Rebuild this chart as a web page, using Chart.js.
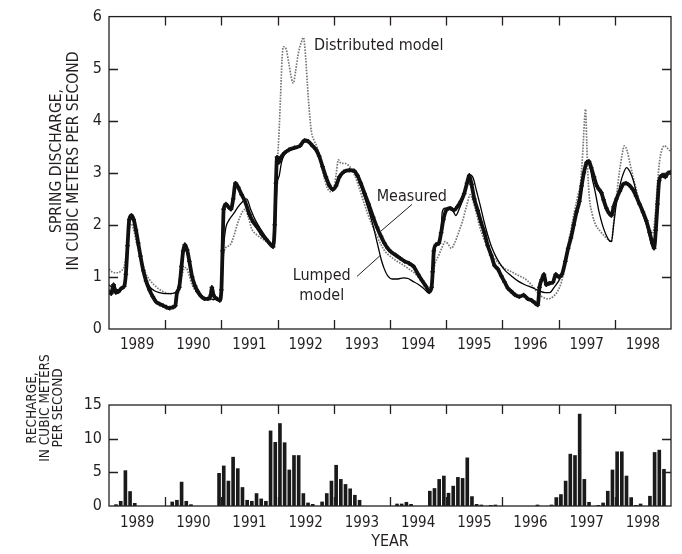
<!DOCTYPE html>
<html><head><meta charset="utf-8">
<script src="https://cdn.jsdelivr.net/npm/chart.js@4.4.1/dist/chart.umd.min.js"></script>
<style>
html,body{margin:0;padding:0;background:#fff;}
#wrap{position:relative;width:682px;height:554px;overflow:hidden;}
#c1{position:absolute;left:0;top:0;}
#c2{position:absolute;left:0;top:340px;}
</style></head><body>
<div id="wrap">
<canvas id="c1" width="682" height="355"></canvas>
<canvas id="c2" width="682" height="214"></canvas>
</div>
<script>
const FONT = '"DejaVu Sans Condensed", "Liberation Sans Narrow", "Liberation Sans", sans-serif';
const INK = '#231f20';

// ---- axis labels ----
const years = [1989, 1990, 1991, 1992, 1993, 1994, 1995, 1996, 1997, 1998];
const yearBoundaries = [1990, 1991, 1992, 1993, 1994, 1995, 1996, 1997, 1998];
const dischargeInnerTicks = [1, 2, 3, 4, 5];
const rechargeInnerTicks = [5, 10];

// ---- spring discharge, measured (year, m3/s) ----
const measuredT = [1989.00,1989.04,1989.08,1989.12,1989.17,1989.22,1989.27,1989.30,1989.33,1989.36,1989.40,1989.44,1989.48,1989.52,1989.56,1989.61,1989.66,1989.72,1989.78,1989.84,1989.90,1989.96,
1990.02,1990.08,1990.14,1990.18,1990.21,1990.25,1990.29,1990.32,1990.35,1990.39,1990.43,1990.48,1990.53,1990.58,1990.63,1990.70,1990.76,1990.81,1990.83,1990.86,1990.92,1990.97,
1991.00,1991.02,1991.04,1991.08,1991.12,1991.17,1991.21,1991.25,1991.30,1991.36,1991.42,1991.50,1991.57,1991.64,1991.72,1991.80,1991.87,1991.92,1991.95,1991.97,1991.99,
1992.02,1992.06,1992.12,1992.20,1992.30,1992.40,1992.48,1992.55,1992.62,1992.68,1992.74,1992.80,1992.86,1992.92,1992.98,
1993.04,1993.10,1993.18,1993.28,1993.36,1993.42,1993.48,1993.55,1993.62,1993.70,1993.77,1993.84,1993.90,1993.96,
1994.02,1994.10,1994.18,1994.26,1994.34,1994.42,1994.50,1994.57,1994.64,1994.70,1994.74,1994.76,1994.78,1994.82,1994.87,1994.91,1994.95,
1995.00,1995.07,1995.14,1995.20,1995.26,1995.32,1995.37,1995.41,1995.45,1995.50,1995.56,1995.62,1995.68,1995.74,1995.80,1995.86,1995.92,1995.98,
1996.04,1996.10,1996.16,1996.22,1996.30,1996.38,1996.45,1996.52,1996.58,1996.63,1996.66,1996.70,1996.74,1996.78,1996.84,1996.90,1996.95,
1997.00,1997.06,1997.12,1997.17,1997.22,1997.27,1997.32,1997.37,1997.41,1997.45,1997.50,1997.54,1997.58,1997.63,1997.68,1997.72,1997.76,1997.80,1997.85,1997.90,1997.94,1997.98,
1998.03,1998.09,1998.15,1998.20,1998.26,1998.32,1998.38,1998.44,1998.50,1998.56,1998.62,1998.67,1998.70,1998.73,1998.76,1998.79,1998.84,1998.90,1998.95,1999.00];
const measuredQ = [0.72,0.68,0.85,0.70,0.72,0.78,0.82,1.05,1.60,2.10,2.18,2.10,1.90,1.65,1.40,1.12,0.92,0.75,0.62,0.52,0.48,0.45,
0.42,0.40,0.42,0.45,0.70,0.80,1.20,1.50,1.62,1.52,1.30,1.00,0.83,0.72,0.64,0.58,0.58,0.65,0.80,0.65,0.58,0.55,
0.75,1.50,2.30,2.40,2.35,2.30,2.50,2.80,2.72,2.58,2.45,2.20,2.05,1.95,1.82,1.72,1.63,1.58,2.00,2.80,3.30,
3.20,3.30,3.38,3.44,3.48,3.52,3.62,3.60,3.52,3.45,3.32,3.12,2.92,2.76,2.68,
2.75,2.92,3.02,3.05,3.04,2.95,2.80,2.60,2.40,2.15,1.95,1.78,1.65,1.55,
1.48,1.42,1.36,1.30,1.26,1.20,1.05,0.93,0.82,0.72,0.80,1.10,1.50,1.62,1.65,1.85,2.10,
2.28,2.32,2.28,2.35,2.45,2.60,2.80,2.95,2.78,2.50,2.28,2.05,1.85,1.60,1.42,1.22,1.15,1.02,
0.90,0.78,0.72,0.66,0.62,0.65,0.58,0.55,0.50,0.46,0.80,0.95,1.05,0.85,0.88,0.90,1.05,
1.00,1.05,1.30,1.55,1.75,2.00,2.25,2.45,2.75,3.00,3.20,3.22,3.10,2.92,2.75,2.68,2.62,2.48,2.32,2.22,2.18,2.35,
2.50,2.65,2.78,2.80,2.76,2.68,2.55,2.40,2.25,2.08,1.85,1.65,1.55,1.90,2.40,2.85,2.95,2.92,3.00,3.00];

// ---- lumped model ----
const lumpedT = [1989.00,1989.05,1989.10,1989.16,1989.22,1989.27,1989.31,1989.34,1989.37,1989.41,1989.46,1989.52,1989.58,1989.65,1989.72,1989.80,1989.90,
1990.00,1990.10,1990.18,1990.22,1990.27,1990.31,1990.35,1990.40,1990.46,1990.52,1990.60,1990.70,1990.80,1990.90,1990.98,
1991.01,1991.04,1991.08,1991.14,1991.22,1991.30,1991.38,1991.45,1991.52,1991.60,1991.68,1991.76,1991.84,1991.92,1991.96,1991.99,
1992.03,1992.07,1992.12,1992.20,1992.30,1992.38,1992.43,1992.47,1992.52,1992.58,1992.65,1992.72,1992.80,1992.87,1992.94,1992.99,
1993.05,1993.12,1993.20,1993.30,1993.38,1993.46,1993.54,1993.62,1993.70,1993.78,1993.84,1993.90,1993.96,
1994.04,1994.14,1994.24,1994.32,1994.40,1994.50,1994.60,1994.70,1994.74,1994.77,1994.80,1994.86,1994.90,1994.93,1994.98,
1995.06,1995.13,1995.17,1995.23,1995.30,1995.37,1995.43,1995.48,1995.54,1995.60,1995.67,1995.74,1995.80,1995.88,1995.96,
1996.05,1996.16,1996.28,1996.40,1996.52,1996.64,1996.76,1996.84,1996.92,
1997.00,1997.06,1997.12,1997.17,1997.22,1997.27,1997.32,1997.37,1997.42,1997.47,1997.52,1997.56,1997.60,1997.65,1997.72,1997.78,1997.84,1997.90,1997.94,1997.98,
1998.02,1998.08,1998.14,1998.21,1998.27,1998.33,1998.40,1998.47,1998.54,1998.60,1998.65,1998.68,1998.72,1998.76,1998.80,1998.86,1998.93,1999.00];
const lumpedQ = [0.85,0.80,0.78,0.75,0.78,0.85,1.20,1.80,2.12,2.15,1.95,1.60,1.25,0.98,0.82,0.74,0.70,
0.68,0.68,0.70,0.75,1.10,1.45,1.55,1.40,1.05,0.80,0.65,0.60,0.58,0.57,0.62,
1.20,1.60,1.95,2.10,2.22,2.35,2.45,2.50,2.30,2.10,1.95,1.82,1.68,1.58,2.00,2.75,
2.95,3.20,3.35,3.44,3.47,3.50,3.56,3.62,3.60,3.58,3.48,3.35,3.12,2.88,2.70,2.66,
2.80,2.95,3.02,3.03,3.00,2.80,2.55,2.28,1.98,1.62,1.35,1.15,1.02,
0.96,0.96,0.98,0.97,0.92,0.86,0.78,0.68,0.85,1.35,1.55,1.65,1.75,2.25,2.32,
2.32,2.25,2.18,2.30,2.50,2.80,2.96,2.90,2.65,2.40,2.08,1.80,1.60,1.40,1.25,
1.12,1.02,0.92,0.85,0.80,0.74,0.70,0.70,0.80,
0.92,1.05,1.30,1.55,1.78,2.02,2.25,2.50,2.80,3.05,3.18,3.10,2.88,2.64,2.25,2.00,1.82,1.70,1.68,2.00,
2.35,2.70,2.95,3.10,3.02,2.85,2.55,2.30,2.10,1.85,1.62,1.57,1.80,2.30,2.88,2.95,3.00,3.05];

// ---- distributed model ----
const distributedT = [1989.00,1989.05,1989.10,1989.16,1989.22,1989.27,1989.31,1989.35,1989.39,1989.43,1989.48,1989.54,1989.60,1989.66,1989.72,1989.80,1989.90,
1990.00,1990.10,1990.18,1990.23,1990.28,1990.33,1990.37,1990.42,1990.48,1990.55,1990.65,1990.75,1990.85,1990.95,1990.99,
1991.02,1991.05,1991.10,1991.16,1991.22,1991.28,1991.35,1991.42,1991.48,1991.54,1991.62,1991.70,1991.80,1991.88,1991.93,1991.96,1991.99,
1992.02,1992.05,1992.08,1992.10,1992.15,1992.20,1992.25,1992.28,1992.32,1992.37,1992.42,1992.46,1992.50,1992.53,1992.56,1992.60,1992.65,1992.70,1992.76,1992.82,1992.88,1992.94,
1993.00,1993.04,1993.08,1993.13,1993.20,1993.28,1993.36,1993.44,1993.52,1993.60,1993.68,1993.76,1993.84,1993.92,
1994.00,1994.10,1994.22,1994.34,1994.46,1994.56,1994.64,1994.71,1994.76,1994.80,1994.86,1994.92,1994.98,
1995.04,1995.09,1995.15,1995.22,1995.29,1995.36,1995.43,1995.47,1995.53,1995.60,1995.68,1995.78,1995.90,
1996.02,1996.16,1996.30,1996.42,1996.54,1996.64,1996.74,1996.82,1996.90,1996.98,
1997.05,1997.10,1997.15,1997.22,1997.28,1997.34,1997.39,1997.43,1997.46,1997.48,1997.50,1997.52,1997.55,1997.60,1997.66,1997.74,1997.82,1997.90,1997.94,1997.98,
1998.03,1998.08,1998.13,1998.17,1998.22,1998.27,1998.33,1998.40,1998.48,1998.56,1998.63,1998.68,1998.72,1998.76,1998.80,1998.84,1998.88,1998.93,1998.98];
const distributedQ = [1.15,1.10,1.08,1.08,1.12,1.20,1.45,1.85,2.02,1.95,1.70,1.45,1.25,1.05,0.95,0.85,0.76,
0.70,0.68,0.70,0.78,0.95,1.15,1.18,1.05,0.85,0.72,0.63,0.58,0.56,0.58,0.70,
1.20,1.50,1.58,1.62,1.78,2.00,2.20,2.30,2.15,1.92,1.82,1.75,1.68,1.62,1.75,2.40,3.10,
3.65,4.40,5.20,5.42,5.38,5.10,4.80,4.72,4.95,5.30,5.50,5.60,5.20,4.70,4.25,3.80,3.62,3.50,3.25,2.95,2.72,2.64,
2.70,2.95,3.25,3.18,3.18,3.12,2.98,2.75,2.48,2.22,2.00,1.80,1.62,1.48,
1.40,1.32,1.24,1.15,1.05,0.92,0.82,0.74,1.00,1.25,1.40,1.55,1.68,
1.62,1.55,1.65,1.85,2.07,2.35,2.58,2.48,2.25,1.95,1.70,1.48,1.30,
1.18,1.10,1.02,0.95,0.82,0.68,0.60,0.58,0.62,0.72,
0.90,1.15,1.50,1.90,2.25,2.55,2.80,3.40,4.00,4.22,3.60,3.00,2.50,2.20,2.00,1.88,1.78,1.70,1.68,2.05,
2.55,3.00,3.35,3.52,3.42,3.18,2.90,2.60,2.25,2.02,1.90,1.85,2.20,2.80,3.25,3.45,3.52,3.48,3.42];

// ---- monthly recharge, Jan 1989 .. Dec 1998 (m3/s) ----
const rechargeMonthly = [
  0, 0.25, 0.75, 5.3, 2.2, 0.45, 0, 0, 0, 0, 0, 0,        // 1989
  0, 0.65, 0.9, 3.6, 0.75, 0.25, 0, 0, 0, 0, 0, 4.9,      // 1990
  6.0, 3.75, 7.3, 5.6, 2.8, 0.9, 0.75, 1.9, 1.1, 0.75, 11.2, 9.5, // 1991
  12.3, 9.45, 5.4, 7.55, 7.55, 1.9, 0.5, 0.3, 0, 0.65, 1.9, 3.75, // 1992
  6.1, 4.0, 3.25, 2.6, 1.65, 0.9, 0, 0, 0, 0, 0, 0,       // 1993
  0, 0.35, 0.35, 0.6, 0.3, 0, 0, 0, 2.25, 2.65, 4.0, 4.5, // 1994
  1.95, 3.0, 4.3, 4.15, 7.2, 1.45, 0.3, 0.2, 0, 0.15, 0.2, 0, // 1995
  0, 0, 0, 0, 0, 0, 0, 0.2, 0, 0, 0.2, 1.3,               // 1996
  1.75, 3.75, 7.75, 7.55, 13.7, 4.0, 0.6, 0, 0.15, 0.5, 2.25, 5.4, // 1997
  8.1, 8.1, 4.5, 1.3, 0.15, 0.35, 0, 1.5, 8.0, 8.35, 5.5, 0  // 1998
];

function pts(ts, vs) { return ts.map((t, i) => ({ x: t, y: vs[i] })); }
function f(size, weight) { return { family: FONT, size: size, weight: weight || 'normal', lineHeight: 1.2 }; }

// frame + inward tick marks, placed with the chart's own scales
const framePlugin = {
  id: 'frame',
  afterDatasetsDraw(chart, args, opts) {
    const { ctx, chartArea: a, scales } = chart;
    ctx.save();
    ctx.strokeStyle = INK;
    ctx.lineWidth = 1.3;
    ctx.strokeRect(a.left, a.top, a.right - a.left, a.bottom - a.top);
    const L = 9;
    ctx.beginPath();
    yearBoundaries.forEach(yr => {
      const x = Math.round(scales.x.getPixelForValue(yr)) + 0.5;
      ctx.moveTo(x, a.top); ctx.lineTo(x, a.top + L);
      ctx.moveTo(x, a.bottom); ctx.lineTo(x, a.bottom - L);
    });
    opts.yTicks.forEach(v => {
      const y = Math.round(scales.y.getPixelForValue(v)) + 0.5;
      ctx.moveTo(a.left, y); ctx.lineTo(a.left + L, y);
      ctx.moveTo(a.right, y); ctx.lineTo(a.right - L, y);
    });
    ctx.stroke();
    ctx.restore();
  }
};

// rotated multi-line y title
const yTitlePlugin = {
  id: 'ytitle',
  afterDraw(chart, args, opts) {
    const ctx = chart.ctx;
    ctx.save();
    ctx.fillStyle = INK;
    ctx.font = opts.size + 'px ' + FONT;
    ctx.textAlign = 'center';
    ctx.textBaseline = 'middle';
    opts.lines.forEach((line, i) => {
      ctx.save();
      ctx.translate(opts.xs[i], opts.cy);
      ctx.rotate(-Math.PI / 2);
      ctx.fillText(line, 0, 0);
      ctx.restore();
    });
    ctx.restore();
  }
};

// series labels with leader lines (anchored in data coordinates)
const labelPlugin = {
  id: 'labels',
  afterDraw(chart, args, opts) {
    const { ctx, scales } = chart;
    const X = v => scales.x.getPixelForValue(v), Y = v => scales.y.getPixelForValue(v);
    ctx.save();
    ctx.fillStyle = INK;
    ctx.font = opts.size + 'px ' + FONT;
    ctx.textBaseline = 'alphabetic';
    opts.texts.forEach(t => {
      ctx.textAlign = t.align;
      ctx.fillText(t.text, X(t.x), Y(t.y));
    });
    ctx.strokeStyle = INK;
    ctx.lineWidth = 1;
    opts.leaders.forEach(l => {
      ctx.beginPath();
      ctx.moveTo(X(l[0]), Y(l[1]));
      ctx.lineTo(X(l[2]), Y(l[3]));
      ctx.stroke();
    });
    ctx.restore();
  }
};

const xYearAxis = (h, pad, title) => ({
  type: 'linear', min: 1989, max: 1999, offset: false,
  afterBuildTicks: s => { s.ticks = years.map(y => ({ value: y + 0.5 })); },
  ticks: { callback: (v, i) => String(years[i]), font: f(15), color: INK, padding: pad, maxRotation: 0, autoSkip: false },
  grid: { display: false, drawTicks: false, offset: false },
  border: { display: false },
  title: title || { display: false },
  afterFit: s => { s.height = h; }
});

new Chart(document.getElementById('c1'), {
  type: 'line',
  data: {
    datasets: [
      { label: 'Measured', data: pts(measuredT, measuredQ), borderColor: '#111', borderWidth: 3.8,
        pointRadius: 2.3, pointStyle: 'cross', pointBorderColor: '#111', pointBorderWidth: 1.3,
        cubicInterpolationMode: 'monotone' },
      { label: 'Lumped model', data: pts(lumpedT, lumpedQ), borderColor: '#000', borderWidth: 1.3,
        pointRadius: 0, cubicInterpolationMode: 'monotone' },
      { label: 'Distributed model', data: pts(distributedT, distributedQ), borderColor: '#777', borderWidth: 1.7,
        borderDash: [1.6, 1.3], pointRadius: 0, cubicInterpolationMode: 'monotone' }
    ]
  },
  options: {
    responsive: false, animation: false,
    layout: { padding: { top: 13, right: 11, left: 0, bottom: 0 } },
    plugins: {
      legend: { display: false }, tooltip: { enabled: false },
      frame: { yTicks: dischargeInnerTicks },
      ytitle: { lines: ['SPRING DISCHARGE,', 'IN CUBIC METERS PER SECOND'], xs: [57, 74], cy: 161, size: 15.5 },
      labels: {
        size: 16,
        texts: [
          { text: 'Distributed model', x: 1992.648, y: 5.36, align: 'left' },
          { text: 'Measured', x: 1993.763, y: 2.464, align: 'left' },
          { text: 'Lumped', x: 1992.785, y: 0.934, align: 'center' },
          { text: 'model', x: 1992.785, y: 0.555, align: 'center' }
        ],
        leaders: [
          [1994.391, 2.393, 1993.84, 1.882],
          [1993.413, 1.01, 1993.822, 1.408]
        ]
      }
    },
    scales: {
      x: xYearAxis(26, 7.5),
      y: {
        min: 0, max: 6,
        ticks: { stepSize: 1, padding: 7, font: f(16), color: INK },
        grid: { display: false, drawTicks: false },
        border: { display: false },
        afterFit: s => { s.width = 109; }
      }
    }
  },
  plugins: [framePlugin, yTitlePlugin, labelPlugin]
});

new Chart(document.getElementById('c2'), {
  type: 'bar',
  data: {
    datasets: [{
      label: 'Recharge',
      data: rechargeMonthly.map((v, i) => ({ x: 1989 + (i + 0.5) / 12, y: v })),
      backgroundColor: '#1a1a1a', borderWidth: 0,
      barPercentage: 0.78, categoryPercentage: 1.0
    }]
  },
  options: {
    responsive: false, animation: false,
    layout: { padding: { top: 65, right: 11, left: 0, bottom: 0 } },
    plugins: {
      legend: { display: false }, tooltip: { enabled: false },
      frame: { yTicks: rechargeInnerTicks },
      ytitle: { lines: ['RECHARGE,', 'IN CUBIC METERS', 'PER SECOND'], xs: [32.7, 45.5, 58.3], cy: 68, size: 13.5 }
    },
    scales: {
      x: xYearAxis(48, 8.5, { display: true, text: 'YEAR', font: f(16), color: INK, padding: { top: 0, bottom: 3 } }),
      y: {
        min: 0, max: 15,
        ticks: { stepSize: 5, padding: 7, font: f(16), color: INK },
        grid: { display: false, drawTicks: false },
        border: { display: false },
        afterFit: s => { s.width = 109; }
      }
    }
  },
  plugins: [framePlugin, yTitlePlugin]
});
</script>
</body></html>
